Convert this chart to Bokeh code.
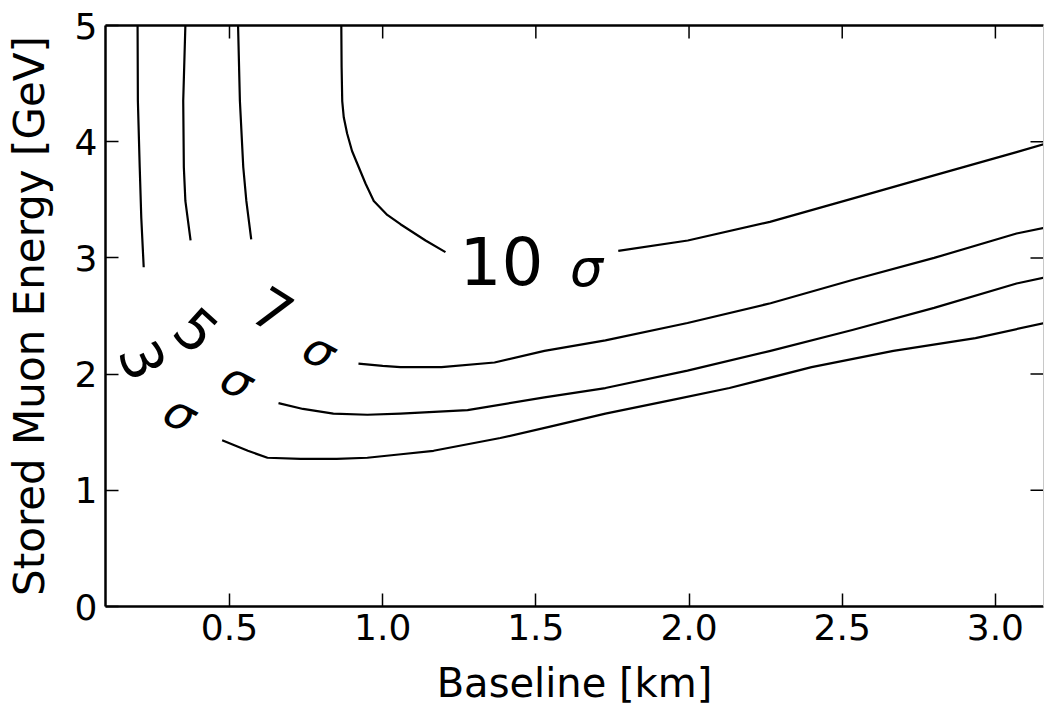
import math
from bokeh.plotting import figure
from bokeh.models import Range1d, LinearAxis, FixedTicker
from bokeh.core.properties import value
from bokeh.embed import file_html
from bokeh.resources import INLINE

# ---- axes ----
x_ticks = [0.5, 1.0, 1.5, 2.0, 2.5, 3.0]
x_tick_labels = ["0.5", "1.0", "1.5", "2.0", "2.5", "3.0"]
y_ticks = [0, 1, 2, 3, 4, 5]
y_tick_labels = ["0", "1", "2", "3", "4", "5"]
X_MIN, X_MAX = 0.0953, 3.157
Y_MIN, Y_MAX = 0.0, 5.0

# ---- contour lines (baseline km, muon energy GeV) ----
c3_upper_x = [0.200, 0.201, 0.207, 0.212, 0.220]
c3_upper_y = [5.00, 4.35, 3.78, 3.35, 2.92]
c3_lower_x = [0.476, 0.560, 0.624, 0.732, 0.850, 0.950, 1.060, 1.166, 1.384, 1.550, 1.727, 1.950, 2.132, 2.400, 2.667, 2.935, 3.160]
c3_lower_y = [1.43, 1.34, 1.28, 1.27, 1.27, 1.28, 1.31, 1.34, 1.45, 1.55, 1.66, 1.78, 1.88, 2.06, 2.20, 2.31, 2.44]

c5_upper_x = [0.356, 0.349, 0.351, 0.356, 0.373]
c5_upper_y = [5.00, 4.35, 3.78, 3.49, 3.15]
c5_lower_x = [0.660, 0.740, 0.839, 0.950, 1.058, 1.277, 1.528, 1.727, 1.995, 2.266, 2.533, 2.800, 3.069, 3.160]
c5_lower_y = [1.75, 1.70, 1.66, 1.65, 1.66, 1.69, 1.80, 1.88, 2.03, 2.20, 2.38, 2.57, 2.78, 2.83]

c7_upper_x = [0.528, 0.534, 0.545, 0.555, 0.571]
c7_upper_y = [5.00, 4.35, 3.78, 3.49, 3.16]
c7_lower_x = [0.921, 1.000, 1.058, 1.192, 1.365, 1.528, 1.727, 1.995, 2.266, 2.533, 2.800, 3.069, 3.160]
c7_lower_y = [2.09, 2.07, 2.06, 2.06, 2.10, 2.20, 2.29, 2.44, 2.61, 2.81, 3.00, 3.21, 3.26]

c10_left_x = [0.865, 0.866, 0.868, 0.873, 0.884, 0.900, 0.922, 0.944, 0.971, 1.015, 1.058, 1.140, 1.205]
c10_left_y = [5.00, 4.64, 4.35, 4.21, 4.07, 3.92, 3.78, 3.64, 3.49, 3.37, 3.29, 3.15, 3.05]
c10_right_x = [1.769, 1.996, 2.264, 2.533, 2.800, 3.069, 3.160]
c10_right_y = [3.06, 3.15, 3.31, 3.51, 3.71, 3.91, 3.98]

# ---- contour labels ----
level_text = ["3", "5", "7"]
level_x = [0.216, 0.392, 0.640]
level_y = [2.117, 2.375, 2.547]
level_angle = [-66, -42, -32]
sigma_x = [0.340, 0.526, 0.794]
sigma_y = [1.661, 1.945, 2.203]
sigma_angle = [-28, -28, -28]
big_text = ["10"]
big_x = [1.388]
big_y = [2.978]
big_sigma_x = [1.665]
big_sigma_y = [2.909]

FONT = "DejaVu Sans"

p = figure(width=1044, height=708, output_backend="svg", toolbar_location=None,
           x_range=Range1d(X_MIN, X_MAX), y_range=Range1d(Y_MIN, Y_MAX),
           min_border_left=105, min_border_right=1, min_border_top=25, min_border_bottom=102)
p.xgrid.visible = False
p.ygrid.visible = False
p.outline_line_color = None
p.background_fill_color = "white"
p.border_fill_color = "white"

p.xaxis.ticker = FixedTicker(ticks=x_ticks)
p.yaxis.ticker = FixedTicker(ticks=y_ticks)
p.xaxis.major_label_overrides = {t: s for t, s in zip(x_ticks, x_tick_labels)}
p.yaxis.major_label_overrides = {t: s for t, s in zip(y_ticks, y_tick_labels)}
p.xaxis.axis_label = "Baseline [km]"
p.yaxis.axis_label = "Stored Muon Energy [GeV]"

for ax in (p.xaxis[0], p.yaxis[0]):
    ax.axis_line_width = 2.5
    ax.axis_line_color = "black"
    ax.major_tick_in = 13
    ax.major_tick_out = 0
    ax.major_tick_line_width = 1.5
    ax.major_tick_line_color = "black"
    ax.minor_tick_line_color = None
    ax.major_label_text_font = FONT
    ax.major_label_text_font_size = "36px"
    ax.major_label_text_color = "black"
    ax.axis_label_text_font = FONT
    ax.axis_label_text_font_style = "normal"
    ax.axis_label_text_color = "black"

p.xaxis.major_label_standoff = 7
p.xaxis.axis_label_text_font_size = "40px"
p.xaxis.axis_label_standoff = 17
p.yaxis.major_label_standoff = 8
p.yaxis.axis_label_text_font_size = "42px"
p.yaxis.axis_label_standoff = 18

# frame lines on top and right (no ticks / labels of their own)
top_ax = LinearAxis(ticker=FixedTicker(ticks=[]))
top_ax.axis_line_width = 2.5
top_ax.axis_line_color = "black"
right_ax = LinearAxis(ticker=FixedTicker(ticks=[]))
right_ax.axis_line_width = 1
right_ax.axis_line_color = "#c8c8c8"
for ax in (top_ax, right_ax):
    ax.major_tick_line_color = None
    ax.minor_tick_line_color = None
    ax.major_tick_out = 0
    ax.major_tick_in = 0
    ax.major_label_standoff = 0
p.add_layout(top_ax, "above")
p.add_layout(right_ax, "right")

# inward ticks on top and right edges (clipped to the frame)
p.scatter(x=x_ticks, y=[Y_MAX] * len(x_ticks), marker="dash", size=26, angle=math.pi / 2,
          line_color="black", line_width=1.5)
p.scatter(x=[X_MAX] * len(y_ticks), y=y_ticks, marker="dash", size=26,
          line_color="black", line_width=1.5)

for xs, ys in ((c3_upper_x, c3_upper_y), (c3_lower_x, c3_lower_y),
               (c5_upper_x, c5_upper_y), (c5_lower_x, c5_lower_y),
               (c7_upper_x, c7_upper_y), (c7_lower_x, c7_lower_y),
               (c10_left_x, c10_left_y), (c10_right_x, c10_right_y)):
    p.line(xs, ys, line_color="black", line_width=2.2, line_join="round")

p.text(x=level_x, y=level_y, text=level_text, angle=[math.radians(a) for a in level_angle],
       text_font=value(FONT), text_font_size="56px", text_align="center",
       text_baseline="middle", text_color="black")
p.text(x=sigma_x, y=sigma_y, text=["σ"] * len(sigma_x), angle=[math.radians(a) for a in sigma_angle],
       text_font=value(FONT), text_font_style="italic", text_font_size="46px",
       text_align="center", text_baseline="middle", text_color="black")
p.text(x=big_x, y=big_y, text=big_text, text_font=value(FONT), text_font_size="66px",
       text_align="center", text_baseline="middle", text_color="black")
p.text(x=big_sigma_x, y=big_sigma_y, text=["σ"], text_font=value(FONT), text_font_style="italic",
       text_font_size="52px", text_align="center", text_baseline="middle", text_color="black")

open("out.html", "w").write(file_html(p, INLINE))
